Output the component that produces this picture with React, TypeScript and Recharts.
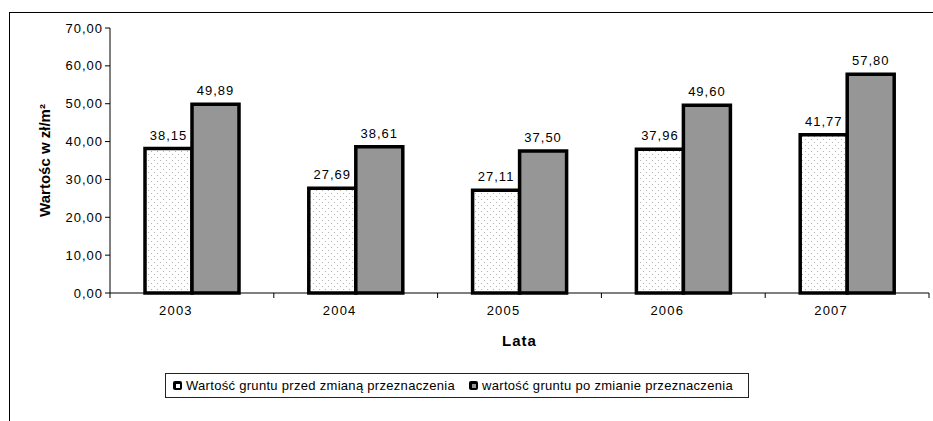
import React from 'react';
import { BarChart, Bar, XAxis, YAxis, LabelList, Legend, Label } from 'recharts';

const years = ['2003', '2004', '2005', '2006', '2007'];
const przed = [38.15, 27.69, 27.11, 37.96, 41.77];
const po = [49.89, 38.61, 37.5, 49.6, 57.8];
const yTicks = [0, 10, 20, 30, 40, 50, 60, 70];
const seriesNames = ['Wartość gruntu przed zmianą przeznaczenia', 'wartość gruntu po zmianie przeznaczenia'];

const data = years.map((y, i) => ({ year: y, przed: przed[i], po: po[i] }));

const fmt = (v: any) => Number(v).toFixed(2).replace('.', ',');
const FONT = '"Liberation Sans", Arial, sans-serif';
const TICK_SIZE = 5;
const TICK_MARGIN = 8;

const CatTick = (props: any) => {
  const { x, y, payload, index, visibleTicksCount } = props;
  const half = payload && payload.offset ? payload.offset : 82;
  const axisY = y - TICK_SIZE - TICK_MARGIN;
  return (
    <g>
      <line x1={x - half} y1={axisY} x2={x - half} y2={axisY + TICK_SIZE} stroke="#000" />
      {index === visibleTicksCount - 1 && (
        <line x1={x + half} y1={axisY} x2={x + half} y2={axisY + TICK_SIZE} stroke="#000" />
      )}
      <text x={x - 16} y={y} dy="0.71em" textAnchor="middle" fontSize={13} letterSpacing={1.2} fill="#000" fontFamily={FONT}>
        {payload.value}
      </text>
    </g>
  );
};

const LegendBox = () => (
  <div style={{ border: '1px solid #222', height: 25, boxSizing: 'border-box', display: 'flex', alignItems: 'center', paddingLeft: 7, fontSize: 13, letterSpacing: 0.3, fontFamily: FONT, color: '#000', whiteSpace: 'nowrap' }}>
    {seriesNames.map((n, i) => (
      <span key={n} style={{ display: 'flex', alignItems: 'center', marginRight: 14 }}>
        <span style={{ width: 9, height: 9, background: '#000', borderRadius: 2, display: 'inline-flex', alignItems: 'center', justifyContent: 'center', marginRight: 4 }}>
          <span style={{ width: 4, height: 4, background: i === 0 ? '#fff' : '#969696' }} />
        </span>
        {n}
      </span>
    ))}
  </div>
);

export default function App() {
  return (
    <div style={{ position: 'relative', width: 933, height: 421, fontFamily: FONT, background: '#fff', overflow: 'hidden' }}>
      <style>{`body{margin:0}`}</style>
      <div style={{ position: 'absolute', left: 9, top: 12, width: 940, height: 420, borderLeft: '1px solid #000', borderTop: '1px solid #000' }} />
      <BarChart width={933} height={421} data={data} margin={{ top: 28, right: 4, left: 10, bottom: 68 }} barGap={0} barSize={47}>
        <defs>
          <pattern id="dots" width="6" height="6" patternUnits="userSpaceOnUse">
            <rect width="6" height="6" fill="#fff" />
            <circle cx="1.5" cy="1.5" r="0.6" fill="#a8a8a8" />
            <circle cx="4.5" cy="4.5" r="0.6" fill="#a8a8a8" />
          </pattern>
        </defs>
        <XAxis xAxisId="top" orientation="top" dataKey="year" height={0} tick={false} tickLine={false} axisLine={{ stroke: '#888' }} />
        <YAxis yAxisId="r" orientation="right" width={0} tick={false} tickLine={false} axisLine={{ stroke: '#888' }} domain={[0, 70]} />
        <XAxis dataKey="year" height={60} tickLine={false} tickSize={TICK_SIZE} tickMargin={TICK_MARGIN} tick={<CatTick />} axisLine={{ stroke: '#000' }} interval={0}>
          <Label value="Lata" position="insideBottom" offset={7} style={{ fontSize: 15, fontWeight: 'bold', fill: '#000', letterSpacing: 1, fontFamily: FONT }} />
        </XAxis>
        <YAxis width={100} domain={[0, 70]} ticks={yTicks} tickFormatter={fmt} tickSize={5} axisLine={{ stroke: '#000' }} tickLine={{ stroke: '#000' }} tick={{ fontSize: 13, fill: '#000', letterSpacing: 1, fontFamily: FONT }} interval={0}>
          <Label value="Wartośc w zł/m²" angle={-90} position="insideLeft" offset={35} style={{ textAnchor: 'middle', fontSize: 15, fontWeight: 'bold', fill: '#000', fontFamily: FONT }} />
        </YAxis>
        <Legend layout="vertical" align="center" verticalAlign="middle" content={<LegendBox />} wrapperStyle={{ left: 165, top: 373, width: 584 }} />
        <Bar dataKey="przed" name={seriesNames[0]} fill="url(#dots)" stroke="#000" strokeWidth={3.5} isAnimationActive={false}>
          <LabelList dataKey="przed" position="top" offset={9} formatter={fmt} style={{ fontSize: 13, fill: '#000', letterSpacing: 1, fontFamily: FONT }} />
        </Bar>
        <Bar dataKey="po" name={seriesNames[1]} fill="#969696" stroke="#000" strokeWidth={3.5} isAnimationActive={false}>
          <LabelList dataKey="po" position="top" offset={9} formatter={fmt} style={{ fontSize: 13, fill: '#000', letterSpacing: 1, fontFamily: FONT }} />
        </Bar>
      </BarChart>
    </div>
  );
}
